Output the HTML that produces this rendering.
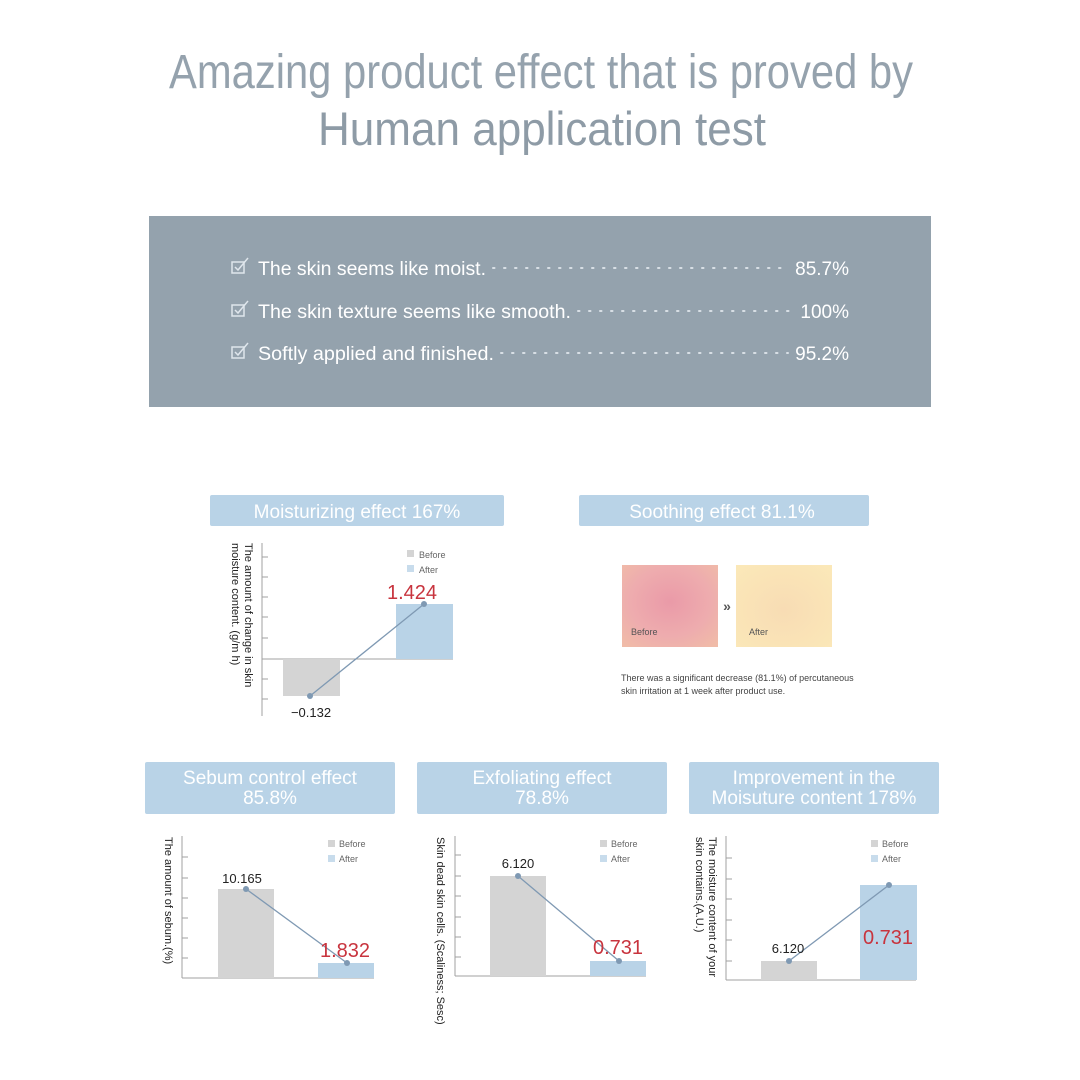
<!DOCTYPE html>
<html><head><meta charset="utf-8"><style>
html,body{margin:0;padding:0;background:#fff;}
svg{display:block;font-family:"Liberation Sans",sans-serif;}
</style></head><body>
<svg width="1080" height="1080" viewBox="0 0 1080 1080" xmlns="http://www.w3.org/2000/svg">
<defs>
<radialGradient id="gb" cx="0.5" cy="0.45" r="0.7">
<stop offset="0" stop-color="#ea9aa8"/><stop offset="0.6" stop-color="#eeacae"/><stop offset="1" stop-color="#f0bba8"/></radialGradient>
<radialGradient id="ga" cx="0.5" cy="0.55" r="0.7">
<stop offset="0" stop-color="#f8dcb4"/><stop offset="1" stop-color="#fbe8b8"/></radialGradient>
</defs>
<rect width="1080" height="1080" fill="#fff"/>
<!-- Title -->
<text x="541" y="88" text-anchor="middle" font-size="48" fill="#95a2ad" textLength="744" lengthAdjust="spacingAndGlyphs" font-weight="300">Amazing product effect that is proved by</text>
<text x="542" y="145" text-anchor="middle" font-size="47" fill="#8e9ba6" textLength="448" lengthAdjust="spacingAndGlyphs">Human application test</text>
<!-- Box -->
<rect x="149" y="216" width="782" height="191" fill="#94a2ad"/>
<g fill="none" stroke="#dfe6ec" stroke-width="1.5">
<rect x="232" y="262" width="12" height="11"/><path d="M235 267l3 3 10-12"/>
<rect x="232" y="305" width="12" height="11"/><path d="M235 310l3 3 10-12"/>
<rect x="232" y="347" width="12" height="11"/><path d="M235 352l3 3 10-12"/>
</g>
<g fill="#fff" font-size="19">
<text x="258" y="275" textLength="228" lengthAdjust="spacingAndGlyphs">The skin seems like moist.</text>
<text x="258" y="318" textLength="313" lengthAdjust="spacingAndGlyphs">The skin texture seems like smooth.</text>
<text x="258" y="360" textLength="236" lengthAdjust="spacingAndGlyphs">Softly applied and finished.</text>
<text x="849" y="275" text-anchor="end">85.7%</text>
<text x="849" y="318" text-anchor="end">100%</text>
<text x="849" y="360" text-anchor="end">95.2%</text>
</g>
<g stroke="#d8dfe5" stroke-width="2" stroke-dasharray="1.5 9.5" stroke-linecap="round">
<line x1="493" y1="268" x2="788" y2="268"/>
<line x1="578" y1="311" x2="796" y2="311"/>
<line x1="501" y1="353" x2="788" y2="353"/>
</g>
<!-- Title labels -->
<g fill="#b9d3e7">
<rect x="210" y="495" width="294" height="31" rx="2"/>
<rect x="579" y="495" width="290" height="31" rx="2"/>
<rect x="145" y="762" width="250" height="52" rx="2"/>
<rect x="417" y="762" width="250" height="52" rx="2"/>
<rect x="689" y="762" width="250" height="52" rx="2"/>
</g>
<g fill="#fff" font-size="19" text-anchor="middle">
<text x="357" y="518">Moisturizing effect 167%</text>
<text x="722" y="518">Soothing effect 81.1%</text>
<text x="270" y="784">Sebum control effect</text><text x="270" y="804">85.8%</text>
<text x="542" y="784">Exfoliating effect</text><text x="542" y="804">78.8%</text>
<text x="814" y="784">Improvement in the</text><text x="814" y="804">Moisuture content 178%</text>
</g>
<!-- Chart 1 -->
<g stroke="#a0a0a0" stroke-width="1">
<line x1="262" y1="543" x2="262" y2="716"/>
<line x1="262" y1="659" x2="453" y2="659"/>
<line x1="262" y1="557" x2="268" y2="557"/><line x1="262" y1="577" x2="268" y2="577"/>
<line x1="262" y1="597" x2="268" y2="597"/><line x1="262" y1="617" x2="268" y2="617"/>
<line x1="262" y1="638" x2="268" y2="638"/><line x1="262" y1="679" x2="268" y2="679"/>
<line x1="262" y1="699" x2="268" y2="699"/>
</g>
<rect x="283" y="659" width="57" height="37" fill="#d4d4d4"/>
<rect x="396" y="604" width="57" height="55" fill="#b9d3e7"/>
<line x1="310" y1="696" x2="424" y2="604" stroke="#7f99b3" stroke-width="1.3"/>
<circle cx="310" cy="696" r="3" fill="#7f99b3"/><circle cx="424" cy="604" r="3" fill="#7f99b3"/>
<rect x="407" y="550" width="7" height="7" fill="#d4d4d4"/><rect x="407" y="565" width="7" height="7" fill="#c8dcec"/>
<text x="419" y="558" font-size="9" fill="#666">Before</text><text x="419" y="573" font-size="9" fill="#666">After</text>
<text x="412" y="599" font-size="20" fill="#c8343e" text-anchor="middle">1.424</text>
<text x="311" y="717" font-size="13" fill="#222" text-anchor="middle">−0.132</text>
<g font-size="11" fill="#222"><text transform="translate(245,543) rotate(90)">The amount of change in skin</text>
<text transform="translate(232,543) rotate(90)">moisture content. (g/m h)</text></g>
<!-- Soothing -->
<rect x="622" y="565" width="96" height="82" fill="url(#gb)"/>
<rect x="736" y="565" width="96" height="82" fill="url(#ga)"/>
<text x="631" y="635" font-size="9" fill="#555">Before</text>
<text x="749" y="635" font-size="9" fill="#555">After</text>
<text x="727" y="611" font-size="14" font-weight="bold" fill="#555" text-anchor="middle">»</text>
<text x="621" y="681" font-size="9" fill="#444">There was a significant decrease (81.1%) of percutaneous</text>
<text x="621" y="694" font-size="9" fill="#444">skin irritation at 1 week after product use.</text>
<!-- Chart A -->
<g stroke="#a0a0a0">
<line x1="182" y1="836" x2="182" y2="978"/><line x1="182" y1="978" x2="374" y2="978"/>
<line x1="182" y1="857" x2="188" y2="857"/><line x1="182" y1="878" x2="188" y2="878"/><line x1="182" y1="898" x2="188" y2="898"/><line x1="182" y1="918" x2="188" y2="918"/><line x1="182" y1="938" x2="188" y2="938"/><line x1="182" y1="958" x2="188" y2="958"/>
</g>
<rect x="218" y="889" width="56" height="89" fill="#d4d4d4"/>
<rect x="318" y="963" width="56" height="15" fill="#b9d3e7"/>
<line x1="246" y1="889" x2="347" y2="963" stroke="#7f99b3" stroke-width="1.3"/>
<circle cx="246" cy="889" r="3" fill="#7f99b3"/><circle cx="347" cy="963" r="3" fill="#7f99b3"/>
<rect x="328" y="840" width="7" height="7" fill="#d4d4d4"/><rect x="328" y="855" width="7" height="7" fill="#c8dcec"/>
<text x="339" y="847" font-size="9" fill="#666">Before</text><text x="339" y="862" font-size="9" fill="#666">After</text>
<text x="242" y="883" font-size="13" fill="#222" text-anchor="middle">10.165</text>
<text x="345" y="957" font-size="20" fill="#c8343e" text-anchor="middle">1.832</text>
<text transform="translate(165,837) rotate(90)" font-size="11" fill="#222">The amount of sebum.(%)</text>
<!-- Chart B -->
<g stroke="#a0a0a0">
<line x1="455" y1="836" x2="455" y2="976"/><line x1="455" y1="976" x2="646" y2="976"/>
<line x1="455" y1="855" x2="461" y2="855"/><line x1="455" y1="876" x2="461" y2="876"/><line x1="455" y1="896" x2="461" y2="896"/><line x1="455" y1="917" x2="461" y2="917"/><line x1="455" y1="937" x2="461" y2="937"/><line x1="455" y1="957" x2="461" y2="957"/>
</g>
<rect x="490" y="876" width="56" height="100" fill="#d4d4d4"/>
<rect x="590" y="961" width="56" height="15" fill="#b9d3e7"/>
<line x1="518" y1="876" x2="619" y2="961" stroke="#7f99b3" stroke-width="1.3"/>
<circle cx="518" cy="876" r="3" fill="#7f99b3"/><circle cx="619" cy="961" r="3" fill="#7f99b3"/>
<rect x="600" y="840" width="7" height="7" fill="#d4d4d4"/><rect x="600" y="855" width="7" height="7" fill="#c8dcec"/>
<text x="611" y="847" font-size="9" fill="#666">Before</text><text x="611" y="862" font-size="9" fill="#666">After</text>
<text x="518" y="868" font-size="13" fill="#222" text-anchor="middle">6.120</text>
<text x="618" y="954" font-size="20" fill="#c8343e" text-anchor="middle">0.731</text>
<text transform="translate(437,837) rotate(90)" font-size="11" fill="#222">Skin dead skin cells. (Scaliness; Sesc)</text>
<!-- Chart C -->
<g stroke="#a0a0a0">
<line x1="726" y1="836" x2="726" y2="980"/><line x1="726" y1="980" x2="916" y2="980"/>
<line x1="726" y1="858" x2="732" y2="858"/><line x1="726" y1="879" x2="732" y2="879"/><line x1="726" y1="899" x2="732" y2="899"/><line x1="726" y1="920" x2="732" y2="920"/><line x1="726" y1="940" x2="732" y2="940"/><line x1="726" y1="961" x2="732" y2="961"/>
</g>
<rect x="761" y="961" width="56" height="19" fill="#d4d4d4"/>
<rect x="860" y="885" width="57" height="95" fill="#b9d3e7"/>
<line x1="789" y1="961" x2="889" y2="885" stroke="#7f99b3" stroke-width="1.3"/>
<circle cx="789" cy="961" r="3" fill="#7f99b3"/><circle cx="889" cy="885" r="3" fill="#7f99b3"/>
<rect x="871" y="840" width="7" height="7" fill="#d4d4d4"/><rect x="871" y="855" width="7" height="7" fill="#c8dcec"/>
<text x="882" y="847" font-size="9" fill="#666">Before</text><text x="882" y="862" font-size="9" fill="#666">After</text>
<text x="788" y="953" font-size="13" fill="#222" text-anchor="middle">6.120</text>
<text x="888" y="944" font-size="20" fill="#c8343e" text-anchor="middle">0.731</text>
<g font-size="11" fill="#222"><text transform="translate(709,837) rotate(90)">The moisture content of your</text>
<text transform="translate(696,837) rotate(90)">skin contains.(A.U.)</text></g>
</svg>
</body></html>
